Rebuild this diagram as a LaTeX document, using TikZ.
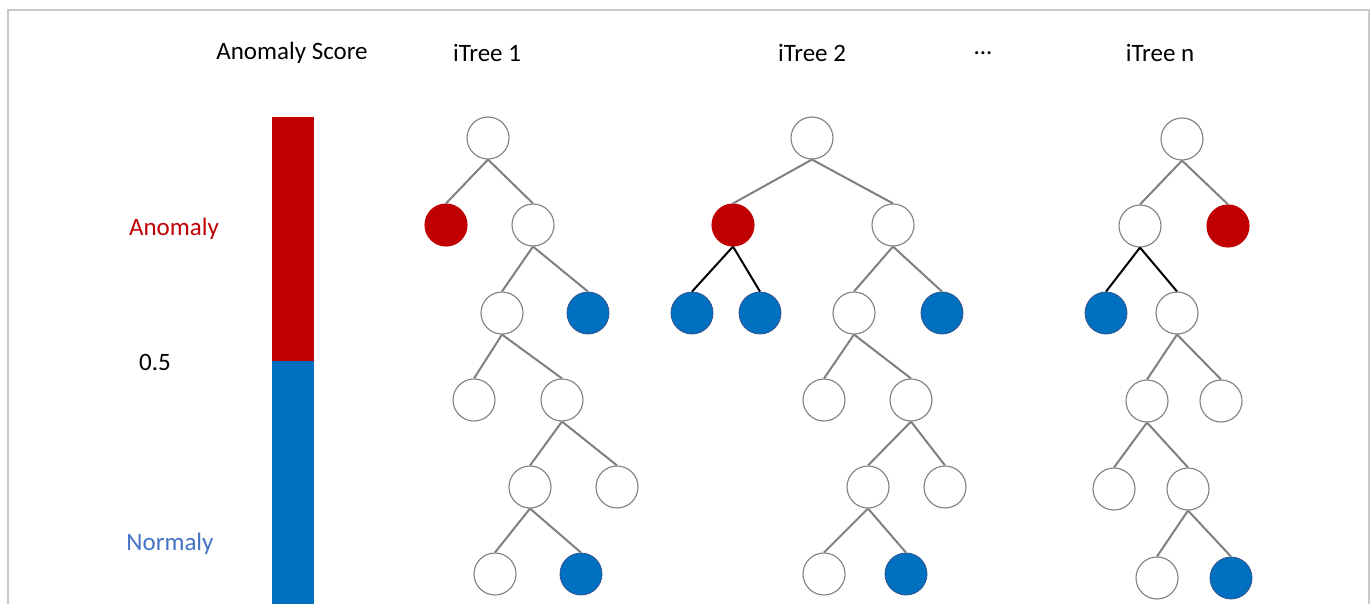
\documentclass[tikz,border=0pt]{standalone}
\usepackage{fontspec}
\setmainfont{Carlito}
\definecolor{ared}{HTML}{C00000}
\definecolor{ablue}{HTML}{0070C0}
\definecolor{nblue}{HTML}{4472C4}
\definecolor{eline}{HTML}{808080}
\definecolor{frame}{HTML}{C8C8C8}
\definecolor{bline}{HTML}{2F528F}
\tikzset{
  nd/.style={circle, minimum size=42pt, inner sep=0pt, line width=1.1pt},
  wn/.style={nd, draw=eline, fill=white},
  rn/.style={nd, draw=ared, fill=ared},
  bn/.style={nd, draw=bline, fill=ablue, line width=0.8pt},
  ge/.style={draw=eline, line width=2pt},
  ke/.style={draw=black, line width=2pt},
  lbl/.style={font=\fontsize{25}{30}\selectfont, inner sep=0pt}
}
\begin{document}
\begin{tikzpicture}[x=1pt,y=-1pt]
\useasboundingbox (0,0) rectangle (1372,604);
\fill[white] (0,0) rectangle (1372,604);
\draw[frame, line width=1.5pt] (8,604) -- (8,10) -- (1369,10) -- (1369,604);
% labels
\node[lbl] (title) at (292,53) {Anomaly Score};
\node[lbl] (t1) at (487,53) {iTree 1};
\node[lbl] (t2) at (812,53) {iTree 2};
\node[lbl] (dots) at (983,53) {...};
\node[lbl] (tn) at (1160,53) {iTree n};
\node[lbl, text=ared] (an) at (174,229) {Anomaly};
\node[lbl] (half) at (155,362) {0.5};
\node[lbl, text=nblue] (nm) at (170,544) {Normaly};
% bar
\fill[ared] (272,117) rectangle (314,361);
\fill[ablue] (272,361) rectangle (314,604);
% tree 1
\node[wn] (a0) at (488,138) {};
\node[rn] (a1) at (446,225) {};
\node[wn] (a2) at (533,225) {};
\node[wn] (a3) at (502,313) {};
\node[bn] (a4) at (588,313) {};
\node[wn] (a5) at (474,400) {};
\node[wn] (a6) at (562,400) {};
\node[wn] (a7) at (530,487) {};
\node[wn] (a8) at (617,487) {};
\node[wn] (a9) at (495,574) {};
\node[bn] (a10) at (581,574) {};
% tree 2
\node[wn] (b0) at (812,138) {};
\node[rn] (b1) at (733,225) {};
\node[wn] (b2) at (893,225) {};
\node[bn] (b3) at (692,313) {};
\node[bn] (b4) at (760,313) {};
\node[wn] (b5) at (854,313) {};
\node[bn] (b6) at (942,313) {};
\node[wn] (b7) at (824,400) {};
\node[wn] (b8) at (911,400) {};
\node[wn] (b9) at (868,487) {};
\node[wn] (b10) at (945,487) {};
\node[wn] (b11) at (824,574) {};
\node[bn] (b12) at (906,574) {};
% tree n
\node[wn] (c0) at (1182,139) {};
\node[wn] (c1) at (1140,226) {};
\node[rn] (c2) at (1228,226) {};
\node[bn] (c3) at (1106,313) {};
\node[wn] (c4) at (1177,313) {};
\node[wn] (c5) at (1147,401) {};
\node[wn] (c6) at (1221,401) {};
\node[wn] (c7) at (1114,489) {};
\node[wn] (c8) at (1188,489) {};
\node[wn] (c9) at (1157,578) {};
\node[bn] (c10) at (1231,578) {};
% edges tree 1
\draw[ge] (a0.south) -- (a1.north);
\draw[ge] (a0.south) -- (a2.north);
\draw[ge] (a2.south) -- (a3.north);
\draw[ge] (a2.south) -- (a4.north);
\draw[ge] (a3.south) -- (a5.north);
\draw[ge] (a3.south) -- (a6.north);
\draw[ge] (a6.south) -- (a7.north);
\draw[ge] (a6.south) -- (a8.north);
\draw[ge] (a7.south) -- (a9.north);
\draw[ge] (a7.south) -- (a10.north);
% edges tree 2
\draw[ge] (b0.south) -- (b1.north);
\draw[ge] (b0.south) -- (b2.north);
\draw[ke] (b1.south) -- (b3.north);
\draw[ke] (b1.south) -- (b4.north);
\draw[ge] (b2.south) -- (b5.north);
\draw[ge] (b2.south) -- (b6.north);
\draw[ge] (b5.south) -- (b7.north);
\draw[ge] (b5.south) -- (b8.north);
\draw[ge] (b8.south) -- (b9.north);
\draw[ge] (b8.south) -- (b10.north);
\draw[ge] (b9.south) -- (b11.north);
\draw[ge] (b9.south) -- (b12.north);
% edges tree n
\draw[ge] (c0.south) -- (c1.north);
\draw[ge] (c0.south) -- (c2.north);
\draw[ke] (c1.south) -- (c3.north);
\draw[ke] (c1.south) -- (c4.north);
\draw[ge] (c4.south) -- (c5.north);
\draw[ge] (c4.south) -- (c6.north);
\draw[ge] (c5.south) -- (c7.north);
\draw[ge] (c5.south) -- (c8.north);
\draw[ge] (c8.south) -- (c9.north);
\draw[ge] (c8.south) -- (c10.north);
\end{tikzpicture}
\end{document}
